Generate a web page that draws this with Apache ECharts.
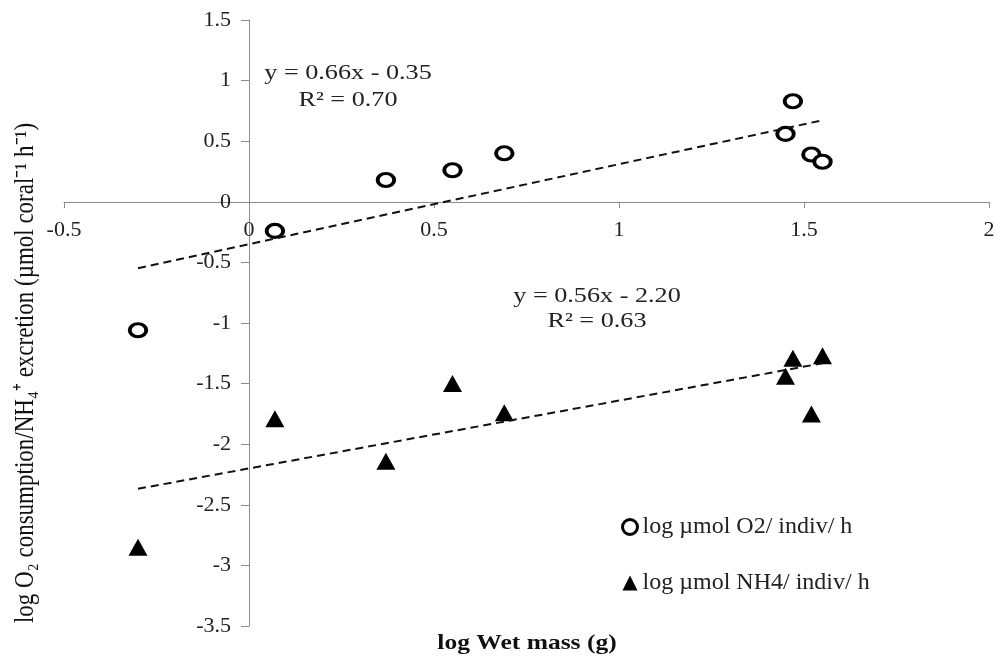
<!DOCTYPE html>
<html>
<head>
<meta charset="utf-8">
<script src="https://cdn.jsdelivr.net/npm/echarts@6/dist/echarts.min.js"></script>
<style>
  html, body { margin: 0; padding: 0; background: #fff; }
  #main { width: 1001px; height: 658px; }
</style>
</head>
<body>
<div id="main"></div>
<script>
const wetMass = [-0.30, 0.07, 0.37, 0.55, 0.69, 1.45, 1.47, 1.52, 1.55];
const o2Values = [-1.06, -0.24, 0.18, 0.26, 0.40, 0.56, 0.83, 0.39, 0.33];
const nh4Values = [-2.85, -1.79, -2.14, -1.50, -1.74, -1.44, -1.29, -1.75, -1.27];
const o2Trend = [[-0.30, -0.548], [1.55, 0.673]];
const nh4Trend = [[-0.30, -2.368], [1.55, -1.332]];
const xTicks = [-0.5, 0, 0.5, 1, 1.5, 2];
const yTicks = [-3.5, -3, -2.5, -2, -1.5, -1, -0.5, 0, 0.5, 1, 1.5];

const serif = '"Liberation Serif", "Times New Roman", serif';
const chart = echarts.init(document.getElementById('main'));

const pair = (xs, ys) => xs.map((x, i) => [x, ys[i]]);

// the original picture is a bit wider than tall, so text is stretched sideways
const stretch = 1.19;
const eqText = (x, y, text) => ({
    type: 'text', x: x, y: y, scaleX: stretch,
    style: { text: text, font: '22px ' + serif, fill: '#222', align: 'center', verticalAlign: 'middle' }
});

const option = {
    backgroundColor: '#fff',
    animation: false,
    textStyle: { fontFamily: serif },
    grid: { left: 64, right: 12, top: 20, bottom: 32, containLabel: false },
    xAxis: {
        type: 'value',
        min: -0.5, max: 2, interval: 0.5,
        offset: -424,
        axisLine: { onZero: false, lineStyle: { color: '#8c8c8c', width: 1 } },
        axisTick: { show: true, length: 6, lineStyle: { color: '#8c8c8c' } },
        axisLabel: {
            color: '#222', fontSize: 22, fontFamily: serif, margin: 17,
            formatter: v => xTicks.indexOf(v) >= 0 ? String(v) : ''
        },
        splitLine: { show: false }
    },
    yAxis: {
        type: 'value',
        min: -3.5, max: 1.5, interval: 0.5,
        offset: -185,
        axisLine: { show: true, onZero: false, lineStyle: { color: '#8c8c8c', width: 1 } },
        axisTick: { show: true, length: 8, lineStyle: { color: '#8c8c8c' } },
        axisLabel: {
            color: '#222', fontSize: 22, fontFamily: serif, margin: 18,
            formatter: v => yTicks.indexOf(v) >= 0 ? String(v) : ''
        },
        splitLine: { show: false }
    },
    legend: {
        orient: 'vertical',
        left: 616, top: 510,
        itemGap: 32,
        itemWidth: 15, itemHeight: 15,
        textStyle: { fontFamily: serif, fontSize: 24, color: '#222' },
        data: [
            { name: 'log µmol O2/ indiv/ h', icon: 'circle',
              itemStyle: { color: '#fff', borderColor: '#000', borderWidth: 3 } },
            { name: 'log µmol NH4/ indiv/ h', icon: 'triangle',
              itemStyle: { color: '#000', borderWidth: 0 } }
        ]
    },
    graphic: [
        eqText(348, 73, 'y = 0.66x - 0.35'),
        eqText(348, 100, 'R² = 0.70'),
        eqText(597, 296, 'y = 0.56x - 2.20'),
        eqText(597, 321, 'R² = 0.63'),
        { type: 'text', x: 527, y: 643, scaleX: 1.16,
          style: { text: 'log Wet mass (g)', font: 'bold 22px ' + serif, fill: '#111', align: 'center', verticalAlign: 'middle' } },
        { type: 'text', x: 26, y: 373, rotation: Math.PI / 2, scaleY: stretch,
          style: { text: 'log O₂ consumption/NH₄⁺ excretion (µmol coral⁻¹ h⁻¹)', font: '23px ' + serif, fill: '#111', align: 'center', verticalAlign: 'middle' } }
    ],
    series: [
        {
            name: 'O2 trend', type: 'line', data: o2Trend, symbol: 'none',
            lineStyle: { color: '#111', width: 2, type: [8, 5] }, silent: true
        },
        {
            name: 'NH4 trend', type: 'line', data: nh4Trend, symbol: 'none',
            lineStyle: { color: '#111', width: 2, type: [8, 5] }, silent: true
        },
        {
            name: 'log µmol O2/ indiv/ h', type: 'scatter',
            data: pair(wetMass, o2Values),
            symbol: 'circle', symbolSize: [16.5, 13],
            itemStyle: { color: '#fff', borderColor: '#000', borderWidth: 3.5, opacity: 1 }
        },
        {
            name: 'log µmol NH4/ indiv/ h', type: 'scatter',
            data: pair(wetMass, nh4Values),
            symbol: 'triangle', symbolSize: [19, 17],
            itemStyle: { color: '#000', opacity: 1 }
        }
    ]
};
chart.setOption(option);
</script>
</body>
</html>
